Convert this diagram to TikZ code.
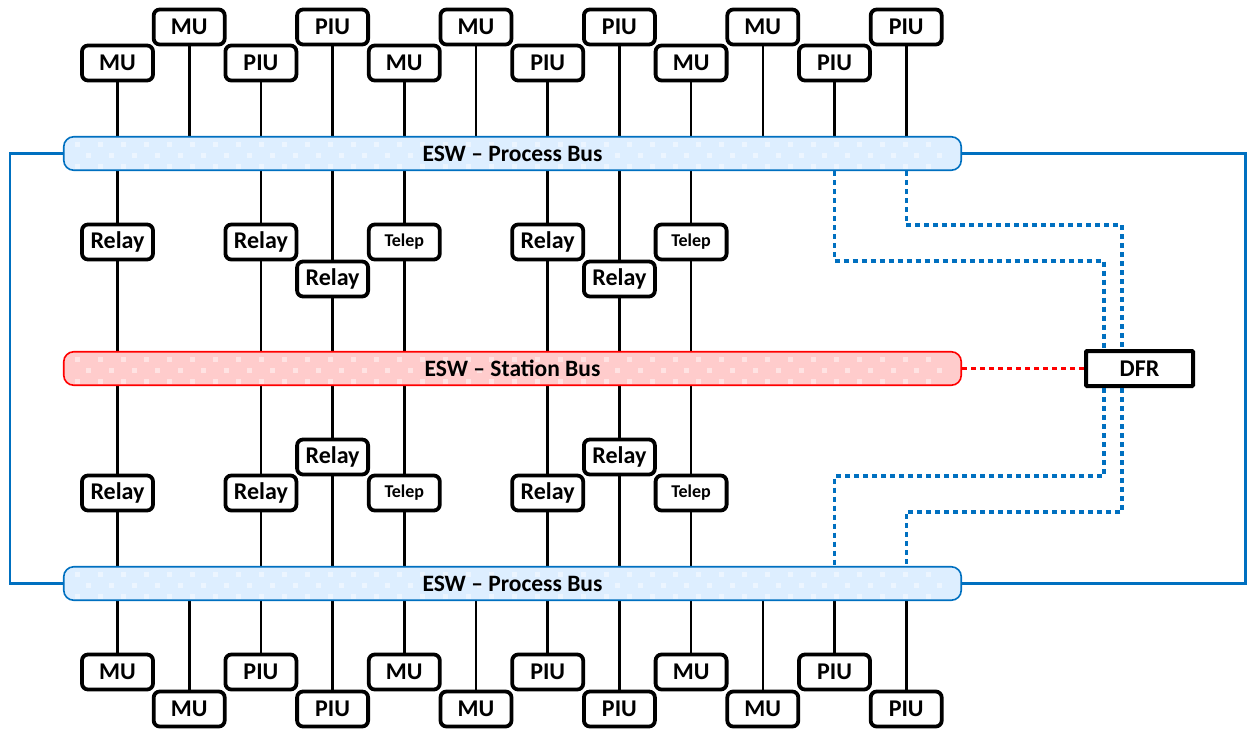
\documentclass[tikz,border=0pt]{standalone}
\usepackage{fontspec}
\setmainfont{Carlito}
\usetikzlibrary{backgrounds}
\definecolor{busblue}{RGB}{0,112,192}
\definecolor{busfill}{RGB}{221,238,255}
\definecolor{stfill}{RGB}{255,204,204}
\tikzset{
  dev/.style={draw, line width=3.8pt, rounded corners=6pt, fill=white,
    minimum width=71pt, minimum height=35pt, inner sep=0pt,
    font=\bfseries\fontsize{24}{28}\selectfont},
  telep/.style={dev, font=\bfseries\fontsize{18}{22}\selectfont},
  bus/.style={rectangle, rounded corners=10pt, line width=1.6pt,
    minimum width=897.5pt, minimum height=33.5pt, inner sep=0pt,
    font=\bfseries\fontsize{23.5}{27}\selectfont},
  pbus/.style={bus, draw=busblue, fill=busfill},
  sbus/.style={bus, draw=red, fill=stfill},
  speck/.style={fill=white, fill opacity=0.45},
  recorder/.style={draw, line width=4pt, rounded corners=1pt, fill=white,
    minimum width=107pt, minimum height=35pt, inner sep=0pt,
    font=\bfseries\fontsize{24}{28}\selectfont},
  wire/.style={line width=2.6pt},
  ring/.style={draw=busblue, line width=2.6pt},
  tap/.style={draw=busblue, line width=3.2pt, dash pattern=on 5pt off 4pt},
  lan/.style={draw=red, line width=3.2pt, dash pattern=on 5pt off 4pt},
}
\begin{document}
\begin{tikzpicture}[x=1pt,y=-1pt]
\useasboundingbox (0,0) rectangle (1247,729);

% buses
\node[pbus] (pt) at (512.5,153.5) {};
\node[sbus] (sb) at (512.5,368.5) {};
\node[pbus] (pb) at (512.5,583.5) {};
\node[recorder] (dfr) at (1139.5,368.5) {DFR};

% faint speckle texture on the bus bars
\foreach \c in {153.5,368.5,583.5}{
  \foreach \i in {0,...,37}{
    \fill[speck] ({77+23*\i-2.5},{\c-11.5}) rectangle +(5,5);
    \fill[speck] ({88+23*\i-2.5},{\c-0.5}) rectangle +(5,5);
    \fill[speck] ({77+23*\i-2.5},{\c+10.5}) rectangle +(5,5);
  }
}
\node[font=\bfseries\fontsize{23.5}{27}\selectfont] at (pt.center) {ESW -- Process Bus};
\node[font=\bfseries\fontsize{23.5}{27}\selectfont] at (sb.center) {ESW -- Station Bus};
\node[font=\bfseries\fontsize{23.5}{27}\selectfont] at (pb.center) {ESW -- Process Bus};

% merging units and process interface units
\foreach \n/\x/\y/\t in {t1/117.5/63/MU, t2/189.2/27/MU, t3/260.9/63/PIU,
    t4/332.6/27/PIU, t5/404.3/63/MU, t6/476/27/MU, t7/547.7/63/PIU,
    t8/619.4/27/PIU, t9/691.1/63/MU, t10/762.8/27/MU, t11/834.5/63/PIU,
    t12/906.2/27/PIU}{
  \node[dev] (\n) at (\x,\y) {\t};
  \begin{scope}[on background layer]
    \draw[wire] (\n) -- (\n |- pt.north);
  \end{scope}
}
\foreach \n/\x/\y/\t in {b1/117.5/672/MU, b2/189.2/709/MU, b3/260.9/672/PIU,
    b4/332.6/709/PIU, b5/404.3/672/MU, b6/476/709/MU, b7/547.7/672/PIU,
    b8/619.4/709/PIU, b9/691.1/672/MU, b10/762.8/709/MU, b11/834.5/672/PIU,
    b12/906.2/709/PIU}{
  \node[dev] (\n) at (\x,\y) {\t};
  \begin{scope}[on background layer]
    \draw[wire] (\n) -- (\n |- pb.south);
  \end{scope}
}

% protection relays and teleprotection
\foreach \n/\x/\y/\s/\t in {ua/117.5/242/dev/Relay, ub/260.9/242/dev/Relay,
    uc/332.6/279/dev/Relay, ud/404.3/242/telep/Telep, ue/547.7/242/dev/Relay,
    uf/619.4/279/dev/Relay, ug/691.1/242/telep/Telep}{
  \node[\s] (\n) at (\x,\y) {\t};
  \begin{scope}[on background layer]
    \draw[wire] (\n |- pt.south) -- (\n |- sb.north);
  \end{scope}
}
\foreach \n/\x/\y/\s/\t in {la/117.5/493/dev/Relay, lb/260.9/493/dev/Relay,
    lc/332.6/457/dev/Relay, ld/404.3/493/telep/Telep, le/547.7/493/dev/Relay,
    lf/619.4/457/dev/Relay, lg/691.1/493/telep/Telep}{
  \node[\s] (\n) at (\x,\y) {\t};
  \begin{scope}[on background layer]
    \draw[wire] (\n |- sb.south) -- (\n |- pb.north);
  \end{scope}
}

% ring between the two process buses
\coordinate (ringL) at (10,0);
\coordinate (ringR) at (1245.5,0);
\draw[ring] (pt.west) -- (pt.west -| ringL) |- (pb.west);
\draw[ring] (pt.east) -- (pt.east -| ringR) |- (pb.east);

% recorder taps
\coordinate (k1) at (1104,261);
\coordinate (k2) at (1122,225);
\coordinate (k3) at (1104,476);
\coordinate (k4) at (1122,512);
\draw[tap] (pt.south -| t11) |- (k1) -- (k1 |- dfr.north);
\draw[tap] (pt.south -| t12) |- (k2) -- (k2 |- dfr.north);
\draw[tap] (dfr.south -| k3) -- (k3) -| (pb.north -| b11);
\draw[tap] (dfr.south -| k4) -- (k4) -| (pb.north -| b12);
\draw[lan] (sb.east) -- (dfr.west);
\end{tikzpicture}
\end{document}
